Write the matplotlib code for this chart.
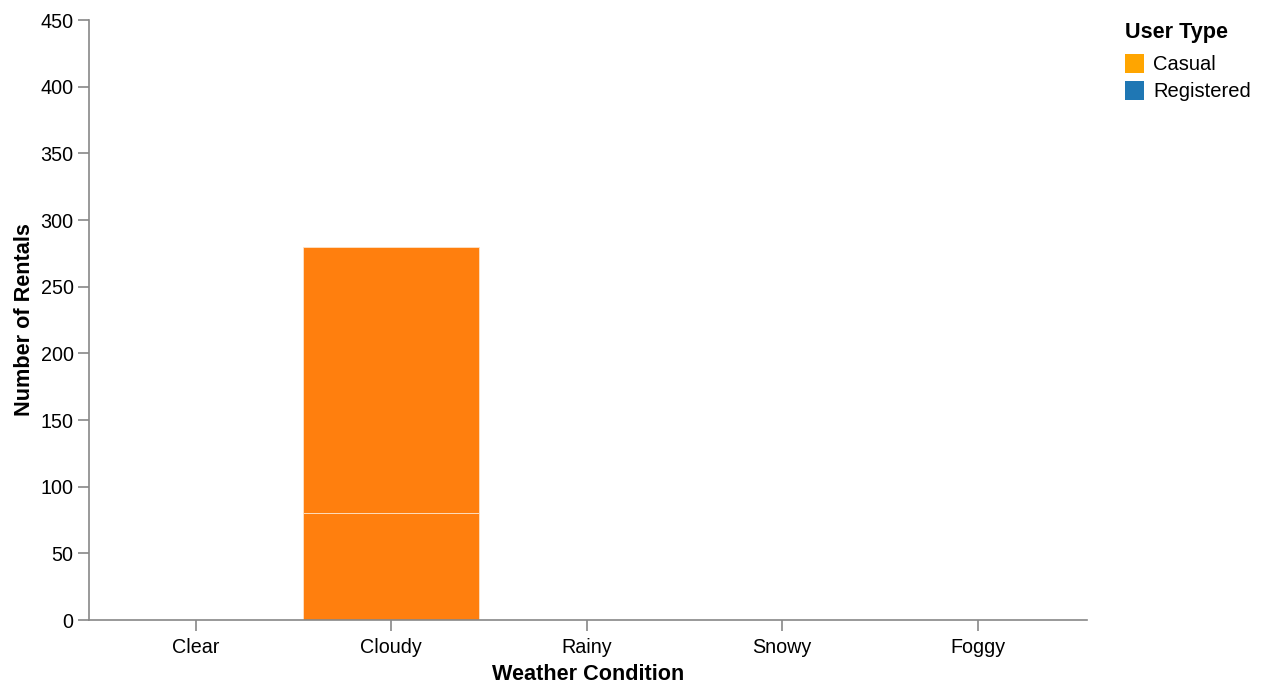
import matplotlib.pyplot as plt
from matplotlib.patches import Patch

plt.rcParams['font.family'] = ['Liberation Sans', 'DejaVu Sans']

# data
conditions = ['Clear', 'Cloudy', 'Rainy', 'Snowy', 'Foggy']
casual = [0, 80, 0, 0, 0]
registered = [0, 200, 0, 0, 0]
user_types = ['Casual', 'Registered']
legend_colors = ['#ffa500', '#1f77b4']
bar_color = '#ff7f0e'
y_ticks = [0, 50, 100, 150, 200, 250, 300, 350, 400, 450]

fig = plt.figure(figsize=(12.64, 6.94), dpi=100)
ax = fig.add_axes([89 / 1264, 74 / 694, 998 / 1264, 600 / 694])

x = list(range(len(conditions)))
ax.bar(x, casual, width=0.9, color=bar_color, edgecolor='#fde3c8', linewidth=0.6)
ax.bar(x, registered, width=0.9, bottom=casual, color=bar_color, edgecolor='#fde3c8', linewidth=0.6)

ax.set_xlim(-0.545, 4.56)
ax.set_ylim(0, 450)
ax.set_xticks(x)
ax.set_xticklabels(conditions)
ax.set_yticks(y_ticks)

for s in ['top', 'right']:
    ax.spines[s].set_visible(False)
for s in ['left', 'bottom']:
    ax.spines[s].set_color('#888888')
    ax.spines[s].set_linewidth(1.2)
ax.tick_params(axis='both', colors='#888888', length=8, width=1.2, labelsize=14.2, labelcolor='black')
ax.tick_params(axis='x', pad=5)
ax.tick_params(axis='y', pad=3)

ax.set_xlabel('Weather Condition', fontsize=15.6, fontweight='bold', labelpad=5)
ax.set_ylabel('Number of Rentals', fontsize=15.6, fontweight='bold', labelpad=4)

handles = [Patch(facecolor=c, edgecolor='none') for c in legend_colors]
leg = fig.legend(handles, user_types, title='User Type', loc='upper left',
                 bbox_to_anchor=(1125 / 1264, 1 - 22 / 694), frameon=False,
                 fontsize=14.5, title_fontproperties={'weight': 'bold', 'size': 15.6},
                 handlelength=0.95, handleheight=1.075, handletextpad=0.45,
                 labelspacing=0.3, borderaxespad=0, borderpad=0)
leg._legend_box.align = 'left'
# a bit more room between the title and the entries
leg._legend_box.sep = 8

fig.savefig('out.png', dpi=100)
